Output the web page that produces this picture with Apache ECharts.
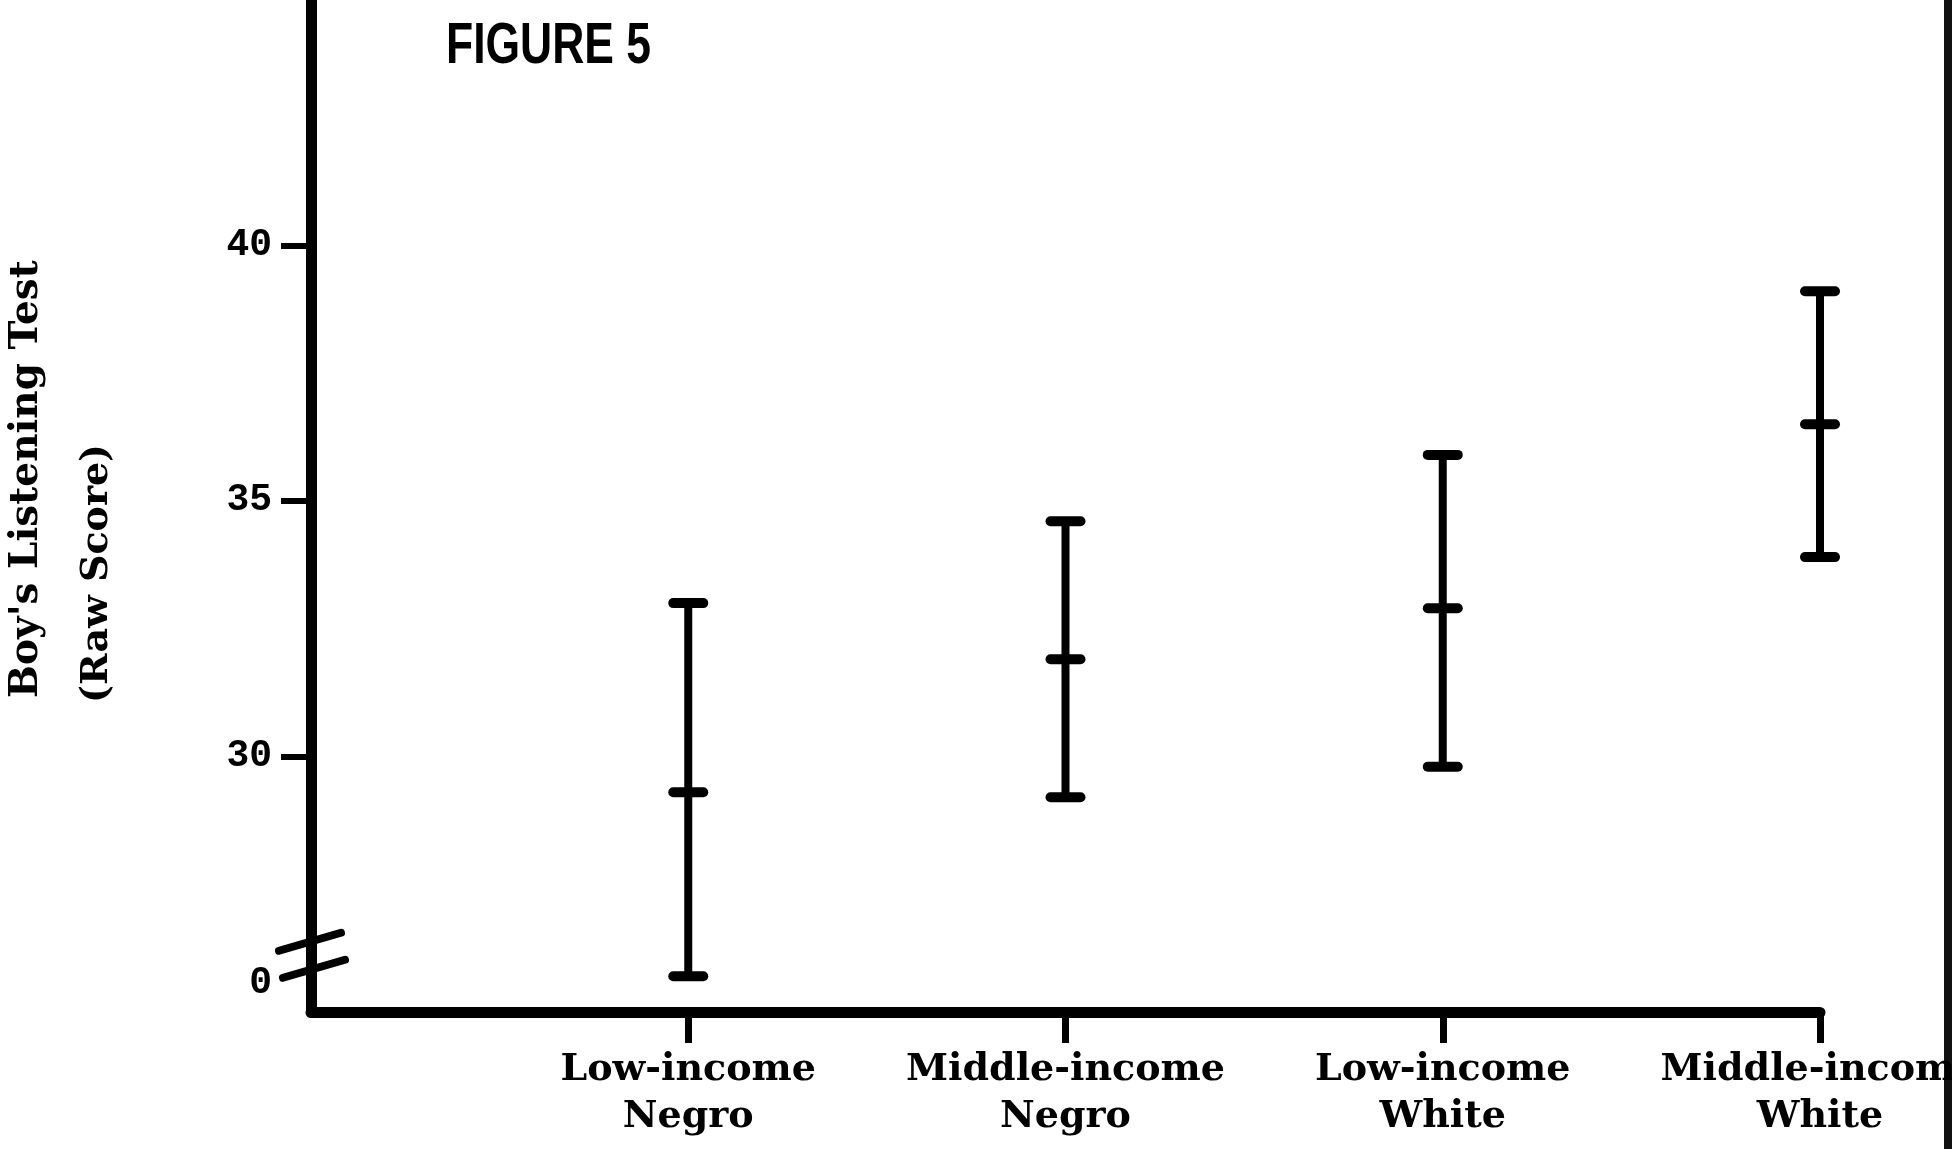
<!DOCTYPE html>
<html>
<head>
<meta charset="utf-8">
<title>Figure 5</title>
<script src="https://cdn.jsdelivr.net/npm/echarts@6/dist/echarts.min.js"></script>
<style>
  html, body { margin: 0; padding: 0; background: #fff; }
  #main { width: 1952px; height: 1149px; }
</style>
</head>
<body>
<div id="main"></div>
<script>
// categories along the x axis (first slot is the empty corner)
var categories = ['', 'Low-income\nNegro', 'Middle-income\nNegro', 'Low-income\nWhite', 'Middle-income\nWhite']
// values (raw score)
var lowValues = [25.7, 29.2, 29.8, 33.9]
var meanValues = [29.3, 31.9, 32.9, 36.5]
var highValues = [33.0, 34.6, 35.9, 39.1]
// y tick labels: the lowest one is the broken-axis "0"
var yTickValues = [30, 35, 40]
var yLabelValues = [25.55, 30, 35, 40]
var breakValue = 26.1

var serif = "'DejaVu Serif', 'Liberation Serif', serif"

var barData = lowValues.map(function (v, i) {
  return [i + 1, v, meanValues[i], highValues[i]]
})

var myChart = echarts.init(document.getElementById('main'))

var option = {
  backgroundColor: '#fff',
  animation: false,
  grid: {
    left: 311,
    right: 132,
    top: 0,
    bottom: 137,
    containLabel: false,
    outerBoundsMode: 'none'
  },
  xAxis: {
    type: 'category',
    data: categories,
    boundaryGap: false,
    axisLine: { show: true, lineStyle: { color: '#000', width: 11, cap: 'round' } },
    axisTick: {
      show: true,
      length: 31,
      interval: function (i) { return i > 0 },
      lineStyle: { color: '#000', width: 7 }
    },
    axisLabel: {
      interval: 0,
      margin: 35,
      color: '#000',
      fontFamily: serif,
      fontWeight: 'bold',
      fontSize: 38,
      lineHeight: 47,
      align: 'center'
    },
    splitLine: { show: false }
  },
  yAxis: {
    type: 'value',
    min: 25,
    max: 44.8,
    axisLine: { show: true, lineStyle: { color: '#000', width: 11 } },
    axisTick: {
      show: true,
      length: 30,
      customValues: yTickValues,
      lineStyle: { color: '#000', width: 6 }
    },
    axisLabel: {
      customValues: yLabelValues,
      margin: 39,
      color: '#000',
      fontFamily: "'Liberation Mono', 'DejaVu Sans Mono', monospace",
      fontWeight: 'bold',
      fontSize: 38,
      formatter: function (v) { return v < 29 ? '0' : String(v) }
    },
    splitLine: { show: false }
  },
  series: [
    {
      // error bars: low / mean / high
      type: 'custom',
      data: barData,
      renderItem: function (params, api) {
        var lo = api.coord([api.value(0), api.value(1)])
        var mid = api.coord([api.value(0), api.value(2)])
        var hi = api.coord([api.value(0), api.value(3)])
        var x = lo[0]
        var half = 15
        var capStyle = { stroke: '#000', lineWidth: 10, lineCap: 'round' }
        return {
          type: 'group',
          children: [
            { type: 'line', shape: { x1: x, y1: lo[1], x2: x, y2: hi[1] }, style: { stroke: '#000', lineWidth: 8 } },
            { type: 'line', shape: { x1: x - half, y1: hi[1], x2: x + half, y2: hi[1] }, style: capStyle },
            { type: 'line', shape: { x1: x - half, y1: mid[1], x2: x + half, y2: mid[1] }, style: capStyle },
            { type: 'line', shape: { x1: x - half, y1: lo[1], x2: x + half, y2: lo[1] }, style: capStyle }
          ]
        }
      }
    },
    {
      // axis break marks on the y axis
      type: 'custom',
      data: [[0, breakValue]],
      silent: true,
      clip: false,
      renderItem: function (params, api) {
        var p = api.coord([api.value(0), api.value(1)])
        var st = { stroke: '#000', lineWidth: 8, lineCap: 'round' }
        return {
          type: 'group',
          children: [
            { type: 'line', shape: { x1: p[0] - 32, y1: p[1] - 5, x2: p[0] + 30, y2: p[1] - 23 }, style: st },
            { type: 'line', shape: { x1: p[0] - 28, y1: p[1] + 22, x2: p[0] + 34, y2: p[1] + 4 }, style: st }
          ]
        }
      }
    }
  ],
  graphic: [
    {
      type: 'text',
      id: 'title',
      x: 446,
      y: 19,
      scaleX: 0.78,
      style: {
        text: 'FIGURE 5',
        fill: '#000',
        fontFamily: "'Liberation Sans', 'DejaVu Sans', sans-serif",
        fontWeight: 'bold',
        fontSize: 57
      }
    },
    {
      type: 'text',
      id: 'yname1',
      x: 27,
      y: 698,
      rotation: Math.PI / 2,
      style: {
        text: "Boy's Listening Test",
        fill: '#000',
        fontFamily: serif,
        fontWeight: 'bold',
        fontSize: 39,
        align: 'left',
        verticalAlign: 'middle'
      }
    },
    {
      type: 'text',
      id: 'yname2',
      x: 97,
      y: 703,
      rotation: Math.PI / 2,
      style: {
        text: '(Raw Score)',
        fill: '#000',
        fontFamily: serif,
        fontWeight: 'bold',
        fontSize: 38,
        align: 'left',
        verticalAlign: 'middle'
      }
    },
    {
      // dark edge of the scanned page
      type: 'rect',
      id: 'edge',
      shape: { x: 1944, y: 0, width: 8, height: 1149 },
      style: { fill: '#111' }
    }
  ]
}

myChart.setOption(option)
</script>
</body>
</html>
